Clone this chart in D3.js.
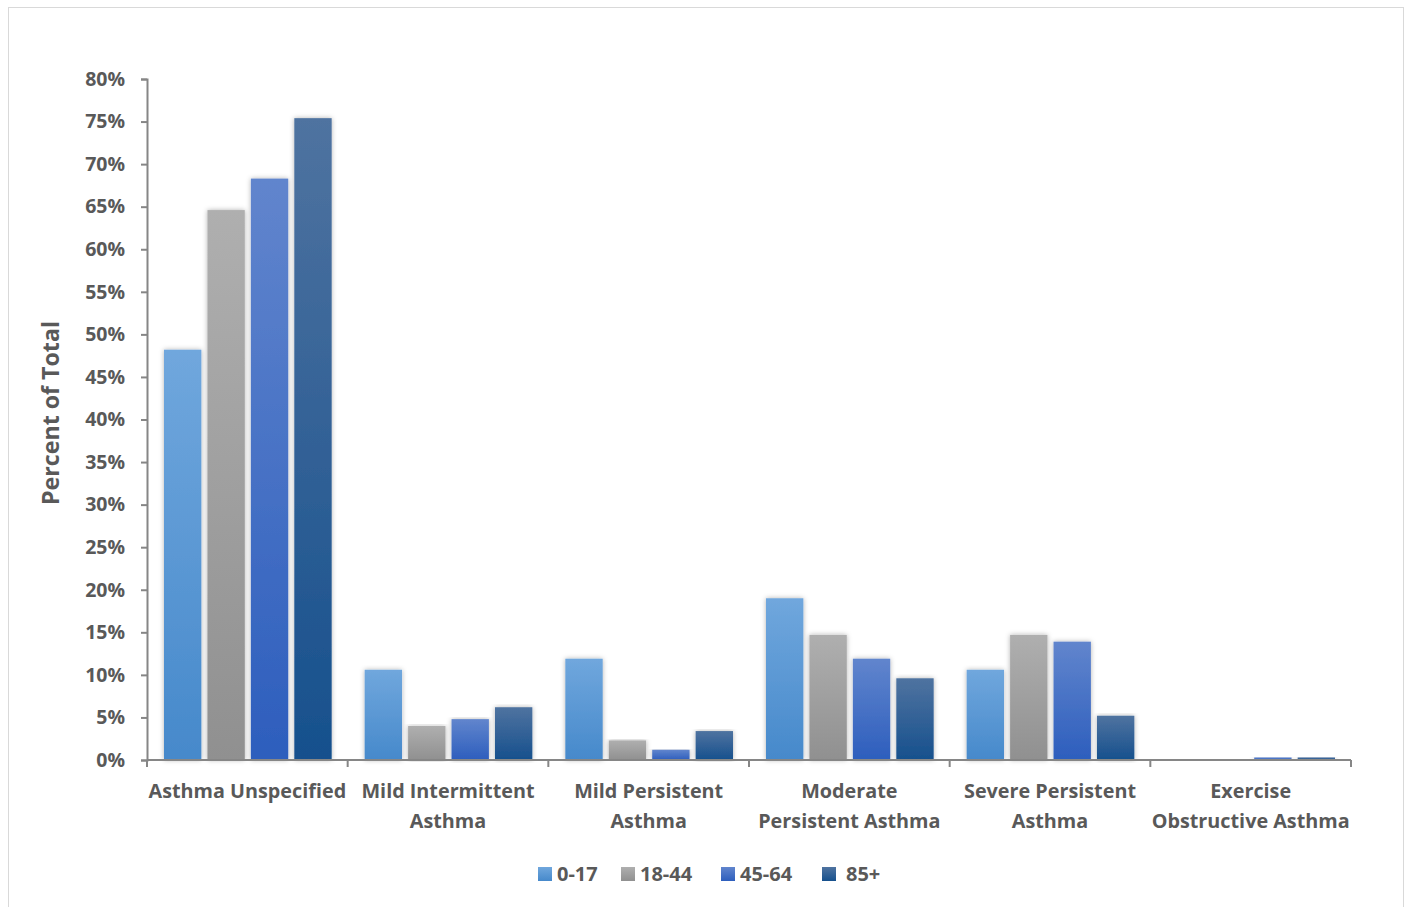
<!DOCTYPE html>
<html lang="en">
<head>
    <meta charset="utf-8">
    <script src="https://d3js.org/d3.v7.min.js"></script>
    <style>
        body { margin: 0; background: #fff; }
        text { font-family: "Open Sans", sans-serif; font-weight: 700; fill: #595959; }
    </style>
</head>
<body>
    <script>
        // Chart size
        let w = 1408;
        let h = 907;

        // Data
        let categories = [
            ["Asthma Unspecified"],
            ["Mild Intermittent", "Asthma"],
            ["Mild Persistent", "Asthma"],
            ["Moderate", "Persistent Asthma"],
            ["Severe Persistent", "Asthma"],
            ["Exercise", "Obstructive Asthma"]
        ];
        let seriesNames = ["0-17", "18-44", "45-64", "85+"];
        let age0to17 = [48.2, 10.6, 11.9, 19.0, 10.6, 0];
        let age18to44 = [64.6, 4.0, 2.3, 14.7, 14.7, 0];
        let age45to64 = [68.3, 4.8, 1.2, 11.9, 13.9, 0.3];
        let age85plus = [75.4, 6.2, 3.4, 9.6, 5.2, 0.3];
        let yTicks = [0, 5, 10, 15, 20, 25, 30, 35, 40, 45, 50, 55, 60, 65, 70, 75, 80];

        let series = [age0to17, age18to44, age45to64, age85plus];
        let gradColors = [
            ["#70a7dd", "#4689cb"],
            ["#afafaf", "#909090"],
            ["#6185cd", "#2d5ebd"],
            ["#4f73a0", "#16508d"]
        ];

        let svg = d3.select("body").append("svg")
            .attr("width", w)
            .attr("height", h);

        // outer frame
        svg.append("rect")
            .attr("x", 8.5).attr("y", 7.5)
            .attr("width", 1395).attr("height", 910)
            .attr("fill", "none")
            .attr("stroke", "#d9d9d9");

        let defs = svg.append("defs");
        gradColors.forEach((c, i) => {
            let g = defs.append("linearGradient")
                .attr("id", "grad" + i)
                .attr("x1", 0).attr("y1", 0).attr("x2", 0).attr("y2", 1);
            g.append("stop").attr("offset", "0%").attr("stop-color", c[0]);
            g.append("stop").attr("offset", "100%").attr("stop-color", c[1]);
        });
        let shadow = defs.append("filter").attr("id", "shadow")
            .attr("x", "-30%").attr("y", "-5%").attr("width", "160%").attr("height", "110%");
        shadow.append("feDropShadow")
            .attr("dx", 0).attr("dy", 0).attr("stdDeviation", 2.5)
            .attr("flood-color", "#000").attr("flood-opacity", 0.3);

        // Scales
        let x0 = d3.scaleBand()
            .domain(d3.range(categories.length))
            .range([147, 1351])
            .padding(0);
        let x1 = d3.scaleBand()
            .domain(d3.range(series.length))
            .range([17, x0.bandwidth() - 16])
            .paddingInner(0.14);
        let y = d3.scaleLinear()
            .domain([0, 80])
            .range([760, 79]);

        // Bars
        series.forEach((vals, s) => {
            svg.append("g")
                .selectAll("rect")
                .data(vals)
                .join("rect")
                    .attr("x", (d, i) => x0(i) + x1(s))
                    .attr("y", d => y(d))
                    .attr("width", x1.bandwidth())
                    .attr("height", d => y(0) - y(d))
                    .attr("fill", "url(#grad" + s + ")")
                    .attr("filter", d => d > 0 ? "url(#shadow)" : null);
        });

        // Y axis
        let yAxis = svg.append("g")
            .attr("transform", "translate(147,0)")
            .call(d3.axisLeft(y).tickValues(yTicks).tickFormat(d => d + "%").tickSize(6).tickPadding(16));
        yAxis.select(".domain").attr("stroke", "#868686").attr("stroke-width", 2);
        yAxis.selectAll(".tick line").attr("stroke", "#868686").attr("stroke-width", 2);
        yAxis.selectAll("text")
            .style("font-size", "19.5px")
            .style("font-family", "'Open Sans', sans-serif")
            .style("font-weight", 700)
            .attr("fill", "#595959");

        // X axis
        let xAxis = svg.append("g")
            .attr("transform", "translate(0,760)");
        xAxis.append("line")
            .attr("x1", 147).attr("x2", 1351)
            .attr("stroke", "#868686").attr("stroke-width", 2);
        xAxis.selectAll(".xtick")
            .data(d3.range(categories.length + 1))
            .join("line")
                .attr("class", "xtick")
                .attr("x1", d => d < categories.length ? x0(d) : x0.range()[1])
                .attr("x2", d => d < categories.length ? x0(d) : x0.range()[1])
                .attr("y1", 0).attr("y2", 7)
                .attr("stroke", "#868686").attr("stroke-width", 2);

        let labels = svg.append("g").selectAll("text")
            .data(categories)
            .join("text")
                .attr("x", (d, i) => x0(i) + x0.bandwidth() / 2)
                .attr("y", 798)
                .attr("text-anchor", "middle")
                .attr("font-size", "19.8px");
        labels.selectAll("tspan")
            .data(d => d)
            .join("tspan")
                .attr("x", function() { return d3.select(this.parentNode).attr("x"); })
                .attr("dy", (d, i) => i === 0 ? 0 : 30)
                .text(d => d);

        // Y axis title
        svg.append("text")
            .attr("transform", "translate(59,413) rotate(-90)")
            .attr("text-anchor", "middle")
            .attr("font-size", "23.2px")
            .text("Percent of Total");

        // Legend
        let legendX = [538, 621, 721, 822];
        let legendTextX = [557, 640, 740, 846];
        let legend = svg.append("g");
        seriesNames.forEach((name, i) => {
            legend.append("rect")
                .attr("x", legendX[i]).attr("y", 867)
                .attr("width", 14).attr("height", 14)
                .attr("fill", "url(#grad" + i + ")");
            legend.append("text")
                .attr("x", legendTextX[i]).attr("y", 881)
                .attr("font-size", "20px")
                .text(name);
        });
    </script>
</body>
</html>
